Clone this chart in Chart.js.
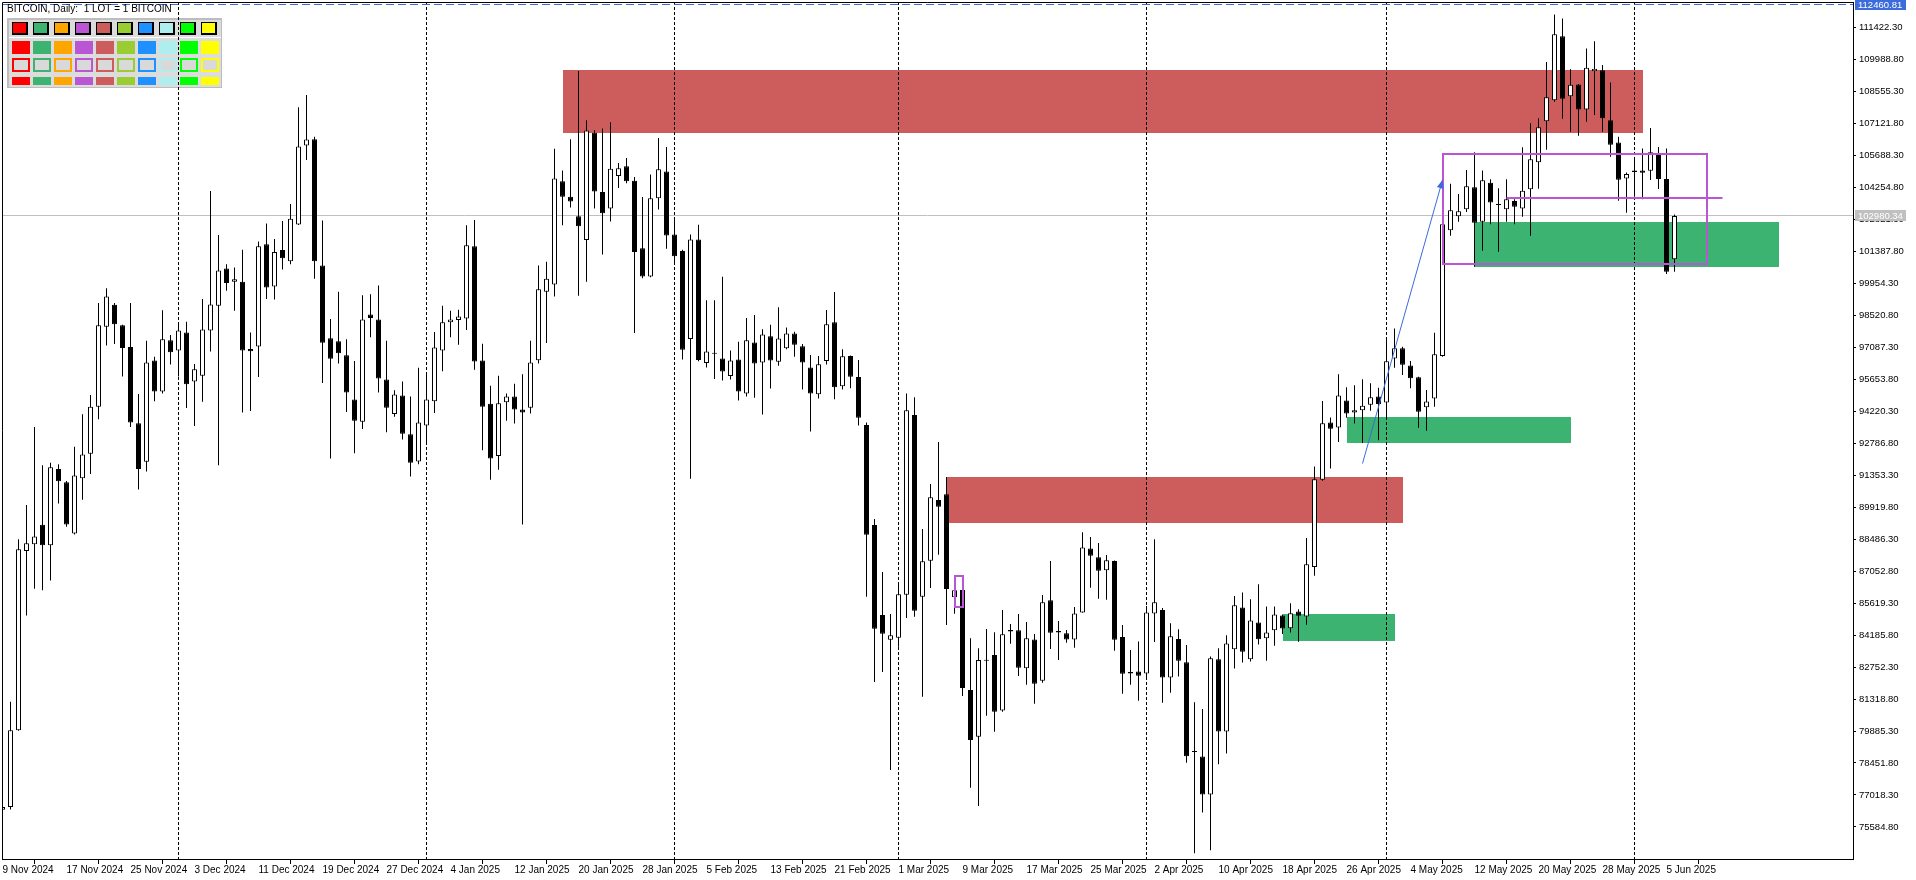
<!DOCTYPE html>
<html>
<head>
<meta charset="utf-8">
<title>BITCOIN, Daily</title>
<script src="https://cdn.jsdelivr.net/npm/chart.js@4.4.1/dist/chart.umd.min.js"></script>
<style>
  html, body { margin: 0; padding: 0; background: #fff; }
  canvas { display: block; }
</style>
</head>
<body>
<canvas id="priceChart" width="1916" height="880"></canvas>
<script>
// daily bars, bar 0 = 9 Nov 2024, bar 209 = 6 Jun 2025
const opens = [
  76350, 76480, 79915, 87955, 88260, 89130, 88220, 91630, 91040, 88740,
  91215, 92320, 94430, 98015, 98995, 98080, 97105, 93690, 91955, 96495,
  95105, 97410, 96950, 97755, 95560, 95820, 97845, 98950, 100625, 100035,
  100035, 97015, 97125, 101710, 99820, 101450, 100950, 102600, 106145, 106425,
  100755, 97495, 97365, 96735, 94755, 93755, 98560, 98340, 95650, 94105,
  94930, 93190, 91975, 93585, 94670, 96950, 98210, 98320, 98385, 101625,
  96495, 94560, 92215, 94625, 94885, 94300, 94385, 96515, 99580, 99905,
  104535, 103840, 102970, 101905, 106710, 104055, 103320, 104775, 105210, 104555,
  101530, 100270, 103770, 104975, 102150, 101410, 97465, 101930, 96385, 96805,
  96585, 95805, 96545, 95025, 97305, 96405, 97585, 96445, 97045, 97705,
  97140, 96190, 94985, 96475, 98210, 95340, 96700, 95760, 93605, 89125,
  85085, 83980, 84070, 86000, 94055, 85910, 87525, 90245, 90500, 85880,
  86210, 81725, 79630, 83040, 83295, 80805, 84350, 84400, 82695, 83995,
  82145, 85745, 84300, 84265, 83995, 85205, 88075, 87675, 87090, 87510,
  84100, 82470, 82560, 82470, 85160, 85310, 82290, 84010, 82965, 78950,
  78745, 77035, 83100, 79865, 83550, 85425, 83100, 84750, 84045, 84400,
  85070, 84495, 85250, 85025, 87235, 91155, 93720, 93495, 94710, 94170,
  94265, 94520, 94890, 94620, 96595, 97045, 96280, 95745, 94400, 94800,
  96700, 102335, 102965, 103280, 104265, 102725, 104475, 103490, 103280, 103650,
  103320, 104175, 105385, 107225, 108165, 111035, 108345, 108880, 107760, 109465,
  109510, 107270, 106280, 104665, 104950, 105025, 105010, 105715, 104640, 101035
];
const highs = [
  76600, 81200, 88480, 90020, 93520, 91800, 91910, 91845, 91100, 92630,
  94085, 94950, 99080, 99735, 99080, 98100, 99080, 95000, 97390, 96670,
  98755, 97645, 98200, 98235, 96345, 99255, 104100, 102125, 100820, 100665,
  101470, 97755, 101840, 102645, 101950, 102755, 103515, 107860, 108405, 106535,
  102775, 98365, 99580, 97450, 96475, 99430, 99470, 99865, 97385, 95170,
  95560, 94885, 96170, 95865, 97780, 98950, 98735, 98775, 102560, 102795,
  97255, 95365, 95820, 95020, 95455, 95885, 97385, 100755, 100930, 105990,
  105015, 106425, 109480, 107275, 106840, 106905, 107185, 105360, 105580, 104730,
  103830, 104835, 106475, 106075, 102870, 101470, 102150, 102590, 99205, 99205,
  100250, 96945, 97345, 98405, 98545, 97905, 98105, 98885, 97985, 97785,
  97235, 96745, 96700, 98765, 99570, 97000, 96720, 96520, 93725, 89390,
  87015, 85130, 86505, 95025, 94850, 88945, 90960, 92845, 91275, 86880,
  86215, 84040, 83595, 84460, 84310, 85310, 84685, 85130, 84775, 84235,
  85985, 87510, 84820, 84415, 85445, 88795, 88585, 88315, 87780, 87530,
  84640, 83520, 83905, 85490, 88480, 85400, 84715, 84445, 83740, 81180,
  80875, 83230, 83600, 84175, 85935, 86095, 85790, 86465, 85470, 85470,
  85110, 85615, 85345, 88545, 91750, 94680, 93945, 95880, 95305, 95385,
  95655, 95480, 95275, 97495, 97940, 97120, 96475, 95775, 95175, 97745,
  102620, 104430, 103965, 105040, 105835, 105025, 104625, 104220, 104625, 103725,
  106060, 107135, 107360, 109885, 112020, 111840, 109555, 108900, 110495, 110810,
  109750, 108970, 106535, 104935, 105580, 106010, 106925, 106075, 106010, 103050
];
const lows = [
  76200, 76370, 79900, 85065, 86260, 86195, 86630, 90085, 89040, 88695,
  90260, 91410, 93865, 97170, 97235, 95780, 93520, 90715, 91520, 94670,
  95020, 96320, 95780, 94365, 93560, 94650, 96900, 91800, 99625, 98735,
  94170, 94235, 95755, 99255, 99235, 100580, 100820, 102580, 105490, 100170,
  95495, 92105, 96365, 94190, 92345, 93430, 97540, 95060, 93280, 93975,
  92955, 91300, 91845, 92735, 94150, 96020, 97540, 97210, 97865, 96080,
  92475, 91150, 91605, 93800, 93670, 89150, 94125, 96365, 97280, 99365,
  102560, 103360, 99405, 100035, 103320, 101255, 102730, 104230, 104450, 97735,
  100190, 100230, 103270, 101510, 100870, 96545, 91200, 96465, 96185, 95665,
  95605, 95645, 94705, 94885, 94825, 94080, 95245, 96265, 97005, 96665,
  95205, 93320, 94800, 96325, 94760, 95205, 95250, 93590, 85910, 82085,
  82530, 78135, 83665, 84955, 85015, 81425, 86300, 87795, 84640, 85145,
  81455, 77345, 76525, 80575, 79855, 80745, 83800, 82350, 81965, 81110,
  82055, 83565, 83070, 83845, 83625, 85190, 86315, 85820, 85775, 83490,
  81560, 81965, 81245, 82175, 83875, 81155, 81605, 82325, 78465, 74400,
  76230, 74535, 78395, 78875, 82685, 82955, 83005, 83760, 83040, 83710,
  84240, 84305, 83885, 84655, 86850, 91110, 91655, 92840, 93930, 93670,
  92805, 94250, 92920, 93905, 96175, 95850, 95250, 93485, 93355, 94430,
  96670, 102095, 102725, 103160, 100705, 101425, 102605, 101380, 102725, 102605,
  102950, 102095, 104205, 105955, 108105, 107345, 106760, 106580, 107210, 107505,
  106760, 105640, 103665, 103130, 103845, 103725, 104595, 104190, 100380, 100480
];
const closes = [
  76480, 79915, 88040, 88300, 88610, 88220, 91715, 91085, 89150, 91345,
  92280, 94430, 98080, 99365, 98125, 97060, 93715, 91630, 96410, 95105,
  97450, 96865, 97845, 95430, 96105, 97885, 99015, 100535, 99970, 100145,
  96950, 96910, 101625, 99775, 101365, 101080, 102860, 106100, 106405, 100950,
  97300, 96580, 96820, 95060, 93800, 98340, 98410, 95690, 94385, 94975,
  93215, 91910, 93715, 94755, 97080, 98210, 98340, 98475, 101665, 96450,
  94430, 92105, 94585, 94885, 94300, 94170, 96410, 99690, 100170, 104665,
  103840, 103625, 102515, 106815, 104080, 103100, 105100, 105120, 104535, 101365,
  100270, 103770, 105075, 102110, 101170, 96985, 101930, 96525, 96905, 96810,
  96005, 96505, 95105, 97405, 96365, 97665, 96505, 97485, 97705, 97205,
  96405, 95025, 96330, 98120, 95295, 96685, 95775, 93935, 88690, 84475,
  84250, 84175, 86015, 94265, 85280, 87495, 90365, 89945, 86255, 86195,
  81815, 79485, 83070, 83070, 80755, 84220, 84420, 82725, 84040, 82010,
  85655, 84295, 84370, 83995, 85160, 88120, 87750, 87075, 87540, 83980,
  82455, 82530, 82365, 85205, 85655, 82280, 84130, 83040, 78750, 78980,
  77035, 83150, 79865, 83805, 85520, 83440, 84845, 84000, 84305, 85105,
  84480, 85170, 85055, 87360, 91175, 93685, 93445, 94935, 94120, 94265,
  94470, 94855, 94550, 96470, 97045, 96310, 95700, 94205, 94665, 96775,
  102605, 103235, 103190, 104310, 102680, 104580, 103590, 103470, 103725, 103395,
  104115, 105520, 106955, 108300, 111125, 108240, 108865, 107760, 109630, 109585,
  107360, 106175, 104610, 104860, 105025, 104920, 105835, 104640, 100480, 102980
];

const priceTicks = [
  111422.30, 109988.80, 108555.30, 107121.80, 105688.30, 104254.80, 102821.30,
  101387.80, 99954.30, 98520.80, 97087.30, 95653.80, 94220.30, 92786.80,
  91353.30, 89919.80, 88486.30, 87052.80, 85619.30, 84185.80, 82752.30,
  81318.80, 79885.30, 78451.80, 77018.30, 75584.80
];
const dateTickBars = [0, 8, 16, 24, 32, 40, 48, 56, 64, 72, 80, 88, 96, 104,
  112, 120, 128, 136, 144, 152, 160, 168, 176, 184, 192, 200, 208];
const dateTickLabels = [
  "9 Nov 2024", "17 Nov 2024", "25 Nov 2024", "3 Dec 2024", "11 Dec 2024",
  "19 Dec 2024", "27 Dec 2024", "4 Jan 2025", "12 Jan 2025", "20 Jan 2025",
  "28 Jan 2025", "5 Feb 2025", "13 Feb 2025", "21 Feb 2025", "1 Mar 2025",
  "9 Mar 2025", "17 Mar 2025", "25 Mar 2025", "2 Apr 2025", "10 Apr 2025",
  "18 Apr 2025", "26 Apr 2025", "4 May 2025", "12 May 2025", "20 May 2025",
  "28 May 2025", "5 Jun 2025"
];
// first bar of each month
const monthStartBars = [22, 53, 84, 112, 143, 173, 204];

const bidPrice = 102980.34;
const askPrice = 112460.81;

// drawn objects: [fromBar, toBar, upperPrice, lowerPrice]
const supplyZones = [[70, 205, 109525, 106715], [118, 175, 91275, 89230]];
const demandZones = [[160, 174, 85120, 83920], [168, 196, 93960, 92806], [184, 222, 102710, 100707]];
const boxOutlines = [[180, 213, 105760, 100825], [119, 120, 86820, 85460]];
// [fromBar, toBar, price]
const levelLines = [[188, 215, 103800]];
// [bar, price] start and end
const arrowFrom = [170, 91880];
const arrowTo = [180, 104590];

const yMin = 74147;
const yMax = 112575;
const xMin = -0.0625;
const xMax = 231.3125;

const bodies = opens.map((o, i) => ({ x: i, y: [Math.min(o, closes[i]), Math.max(o, closes[i])] }));
const wicks = lows.map((l, i) => ({ x: i, y: [l, highs[i]] }));

const FONT = '"Liberation Sans", Arial, sans-serif';
const paletteColors = ["#FF0000", "#3CB371", "#FFA500", "#BA55D3", "#CD5C5C",
  "#9ACD32", "#1E90FF", "#AFEEEE", "#00FF00", "#FFFF00"];

function drawPalette(c) {
  c.save();
  c.fillStyle = "#BDBDBD";
  c.fillRect(7, 18, 215, 70);
  c.fillStyle = "#DCDCDC";
  c.fillRect(9, 20, 212, 67);
  c.fillStyle = "#FFFFFF";
  c.fillRect(9, 37, 212, 1);
  paletteColors.forEach((col, k) => {
    const bx = 12 + 21 * k;
    c.fillStyle = "#000";
    c.fillRect(bx, 22, 16, 13);
    c.fillStyle = col;
    c.fillRect(bx + 1, 23, 13, 10);
    c.fillRect(bx, 41, 18, 13);
    c.fillRect(bx, 58, 18, 14);
    c.fillStyle = "#D9D9D9";
    c.fillRect(bx + 2, 60, 14, 10);
    c.fillStyle = col;
    c.fillRect(bx, 77, 18, 8);
  });
  c.restore();
}

const mt5Objects = {
  id: "mt5Objects",
  beforeDatasetsDraw(chart) {
    const { ctx, chartArea: a, scales: { x, y } } = chart;
    ctx.save();
    ctx.beginPath();
    ctx.rect(a.left, a.top, a.right - a.left, a.bottom - a.top);
    ctx.clip();
    const zone = (z, color) => {
      const x1 = Math.round(x.getPixelForValue(z[0]));
      const x2 = Math.round(x.getPixelForValue(z[1]));
      const y1 = Math.round(y.getPixelForValue(z[2]));
      const y2 = Math.round(y.getPixelForValue(z[3]));
      ctx.fillStyle = color;
      ctx.fillRect(x1, y1, x2 - x1, y2 - y1);
    };
    supplyZones.forEach(z => zone(z, "#CD5C5C"));
    demandZones.forEach(z => zone(z, "#3CB371"));

    drawPalette(ctx);

    // month separators
    ctx.strokeStyle = "#000";
    ctx.lineWidth = 1;
    ctx.setLineDash([3, 2]);
    monthStartBars.forEach(b => {
      const px = x.getPixelForValue(b);
      ctx.beginPath();
      ctx.moveTo(px, a.top);
      ctx.lineTo(px, a.bottom);
      ctx.stroke();
    });

    // ask line
    ctx.strokeStyle = "#3B6BDC";
    ctx.setLineDash([8, 4]);
    let py = Math.floor(y.getPixelForValue(askPrice)) + 0.5;
    ctx.beginPath();
    ctx.moveTo(a.left, py);
    ctx.lineTo(a.right, py);
    ctx.stroke();

    // bid line
    ctx.strokeStyle = "#C0C0C0";
    ctx.setLineDash([]);
    py = Math.floor(y.getPixelForValue(bidPrice)) + 0.5;
    ctx.beginPath();
    ctx.moveTo(a.left, py);
    ctx.lineTo(a.right, py);
    ctx.stroke();
    ctx.restore();
  },
  afterDatasetsDraw(chart) {
    const { ctx, chartArea: a, scales: { x, y } } = chart;
    ctx.save();
    ctx.beginPath();
    ctx.rect(a.left, a.top, a.right - a.left, a.bottom - a.top);
    ctx.clip();
    ctx.strokeStyle = "#BA55D3";
    ctx.lineWidth = 2;
    boxOutlines.forEach(r => {
      const x1 = Math.round(x.getPixelForValue(r[0]));
      const x2 = Math.round(x.getPixelForValue(r[1]));
      const y1 = Math.round(y.getPixelForValue(r[2]));
      const y2 = Math.round(y.getPixelForValue(r[3]));
      ctx.strokeRect(x1, y1, x2 - x1, y2 - y1);
    });
    levelLines.forEach(l => {
      const py = Math.round(y.getPixelForValue(l[2]));
      ctx.beginPath();
      ctx.moveTo(x.getPixelForValue(l[0]), py);
      ctx.lineTo(x.getPixelForValue(l[1]), py);
      ctx.stroke();
    });

    // arrow
    const x1 = x.getPixelForValue(arrowFrom[0]), y1 = y.getPixelForValue(arrowFrom[1]);
    const x2 = x.getPixelForValue(arrowTo[0]), y2 = y.getPixelForValue(arrowTo[1]);
    const ang = Math.atan2(y2 - y1, x2 - x1);
    ctx.strokeStyle = "#3B6BDC";
    ctx.fillStyle = "#3B6BDC";
    ctx.lineWidth = 1;
    ctx.beginPath();
    ctx.moveTo(x1, y1);
    ctx.lineTo(x2, y2);
    ctx.stroke();
    ctx.beginPath();
    ctx.moveTo(x2, y2);
    ctx.lineTo(x2 - 9 * Math.cos(ang - 0.4), y2 - 9 * Math.sin(ang - 0.4));
    ctx.lineTo(x2 - 9 * Math.cos(ang + 0.4), y2 - 9 * Math.sin(ang + 0.4));
    ctx.closePath();
    ctx.fill();
    ctx.restore();
  },
  afterDraw(chart) {
    const { ctx, chartArea: a, scales: { y } } = chart;
    ctx.save();
    // left and top frame
    ctx.strokeStyle = "#000";
    ctx.lineWidth = 1;
    ctx.beginPath();
    ctx.moveTo(a.left + 0.5, a.bottom);
    ctx.lineTo(a.left + 0.5, a.top + 0.5);
    ctx.lineTo(a.right, a.top + 0.5);
    ctx.stroke();

    ctx.font = "9.5px " + FONT;
    ctx.textBaseline = "middle";
    ctx.textAlign = "left";
    const priceBox = (price, bg) => {
      const py = Math.floor(y.getPixelForValue(price)) + 0.5;
      ctx.fillStyle = bg;
      ctx.fillRect(a.right + 2, Math.round(py - 5.5), 51, 11);
      ctx.fillStyle = "#FFFFFF";
      ctx.fillText(price.toFixed(2), a.right + 5, py + 0.5);
    };
    priceBox(askPrice, "#3B6BDC");
    priceBox(bidPrice, "#C0C0C0");

    ctx.font = "10px " + FONT;
    ctx.fillStyle = "#000";
    ctx.fillText("BITCOIN, Daily:  1 LOT = 1 BITCOIN", 7, 9);
    ctx.restore();
  }
};

new Chart(document.getElementById("priceChart"), {
  type: "bar",
  data: {
    datasets: [
      {
        label: "Body",
        data: bodies,
        order: 0,
        grouped: false,
        barThickness: 5,
        minBarLength: 1,
        borderWidth: 1,
        borderColor: "#000",
        borderSkipped: false,
        inflateAmount: 0,
        backgroundColor: (c) => closes[c.dataIndex] >= opens[c.dataIndex] ? "#FFFFFF" : "#000000",
      },
      {
        label: "Wick",
        data: wicks,
        order: 1,
        grouped: false,
        barThickness: 1,
        borderWidth: 0,
        inflateAmount: 0,
        backgroundColor: "#000",
      },
    ],
  },
  options: {
    responsive: false,
    animation: false,
    devicePixelRatio: 1,
    layout: { padding: { left: 2, top: 2, right: 0, bottom: 0 } },
    plugins: {
      legend: { display: false },
      tooltip: { enabled: false },
      title: { display: false },
    },
    scales: {
      x: {
        type: "linear",
        min: xMin,
        max: xMax,
        offset: false,
        grid: { drawOnChartArea: false, tickLength: 5, tickColor: "#000" },
        border: { color: "#000" },
        ticks: {
          color: "#000",
          font: { family: FONT, size: 10 },
          align: "start",
          autoSkip: false,
          maxRotation: 0,
          minRotation: 0,
          padding: 0,
          callback: (v, i) => dateTickLabels[i],
        },
        afterBuildTicks: (s) => { s.ticks = dateTickBars.map(v => ({ value: v })); },
        afterFit: (s) => { s.height = 21; s.paddingLeft = 0; s.paddingRight = 0; },
      },
      y: {
        position: "right",
        min: yMin,
        max: yMax,
        grid: { drawOnChartArea: false, tickLength: 3, tickColor: "#000" },
        border: { color: "#000" },
        ticks: {
          color: "#000",
          font: { family: FONT, size: 9.5 },
          autoSkip: false,
          padding: 3,
          callback: (v) => Number(v).toFixed(2),
        },
        afterBuildTicks: (s) => { s.ticks = priceTicks.map(v => ({ value: v })); },
        afterFit: (s) => { s.width = 63; s.paddingTop = 0; s.paddingBottom = 0; },
      },
    },
  },
  plugins: [mt5Objects],
});
</script>
</body>
</html>
